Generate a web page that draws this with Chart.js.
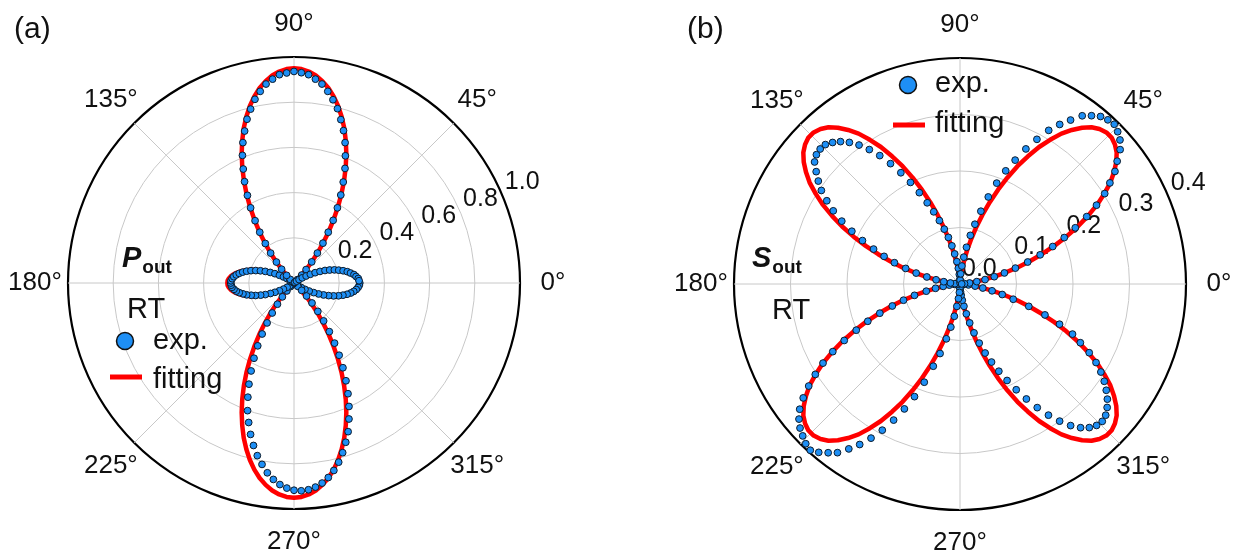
<!DOCTYPE html>
<html>
<head>
<meta charset="utf-8">
<title>P_out / S_out polar plots</title>
<script src="https://cdn.jsdelivr.net/npm/chart.js@4.4.1/dist/chart.umd.min.js"></script>
<style>
  html, body { margin: 0; padding: 0; background: #fff; }
  #wrap { position: relative; width: 1239px; height: 556px; overflow: hidden; }
  #wrap canvas { position: absolute; left: 0; top: 0; }
</style>
</head>
<body>
<div id="wrap">
  <canvas id="polarA" width="1239" height="556"></canvas>
  <canvas id="polarB" width="1239" height="556"></canvas>
</div>
<script>
// polar angle of every sample (deg, counter-clockwise from 0°)
const angleDeg = [
  0, 2, 4, 6, 8, 10, 12, 14, 16, 18, 20, 22, 24, 26, 28, 30, 32, 34, 36, 38,
  40, 42, 44, 46, 48, 50, 52, 54, 56, 58, 60, 62, 64, 66, 68, 70, 72, 74, 76, 78,
  80, 82, 84, 86, 88, 90, 92, 94, 96, 98, 100, 102, 104, 106, 108, 110, 112, 114, 116, 118,
  120, 122, 124, 126, 128, 130, 132, 134, 136, 138, 140, 142, 144, 146, 148, 150, 152, 154, 156, 158,
  160, 162, 164, 166, 168, 170, 172, 174, 176, 178, 180, 182, 184, 186, 188, 190, 192, 194, 196, 198,
  200, 202, 204, 206, 208, 210, 212, 214, 216, 218, 220, 222, 224, 226, 228, 230, 232, 234, 236, 238,
  240, 242, 244, 246, 248, 250, 252, 254, 256, 258, 260, 262, 264, 266, 268, 270, 272, 274, 276, 278,
  280, 282, 284, 286, 288, 290, 292, 294, 296, 298, 300, 302, 304, 306, 308, 310, 312, 314, 316, 318,
  320, 322, 324, 326, 328, 330, 332, 334, 336, 338, 340, 342, 344, 346, 348, 350, 352, 354, 356, 358
];

// (a) P_out, measured
const expP = [
  .291, .288, .285, .276, .268, .254, .241, .224, .206, .188, .168, .148, .126, .104, .082, .062, .043, .027, .014, .005,
  .002, .007, .022, .049, .080, .122, .168, .218, .271, .327, .384, .441, .497, .555, .607, .661, .709, .752, .795, .829,
  .861, .889, .907, .924, .931, .936, .930, .924, .907, .889, .861, .831, .793, .754, .707, .661, .609, .552, .499, .439,
  .384, .325, .271, .216, .168, .121, .082, .047, .023, .007, .002, .004, .010, .022, .037, .054, .073, .094, .115, .137,
  .158, .178, .198, .216, .232, .246, .258, .268, .274, .279, .280, .278, .275, .267, .258, .246, .231, .216, .197, .179,
  .157, .137, .114, .094, .073, .054, .036, .022, .010, .003, .001, .002, .006, .022, .047, .080, .119, .164, .213, .266,
  .321, .377, .433, .490, .545, .601, .649, .697, .741, .781, .815, .848, .874, .894, .908, .917, .920, .917, .908, .894,
  .874, .848, .817, .781, .741, .700, .649, .598, .545, .490, .433, .377, .321, .266, .213, .164, .119, .080, .047, .022,
  .006, .003, .011, .022, .038, .056, .076, .097, .119, .141, .163, .184, .205, .223, .240, .255, .267, .277, .284, .289
];

// (a) P_out, fitting curve
const fitP = [
  .295, .294, .289, .282, .272, .259, .244, .227, .208, .188, .166, .144, .121, .098, .077, .057, .038, .023, .011, .003,
  0, .006, .022, .048, .082, .123, .170, .220, .275, .331, .389, .448, .506, .563, .618, .670, .720, .765, .807, .844,
  .876, .902, .923, .938, .947, .950, .947, .938, .923, .902, .876, .844, .807, .765, .720, .670, .618, .563, .506, .448,
  .389, .331, .275, .220, .170, .123, .082, .048, .022, .006, 0, .003, .011, .023, .038, .057, .077, .098, .121, .144,
  .166, .188, .208, .227, .244, .259, .272, .282, .289, .294, .295, .294, .289, .282, .272, .259, .244, .227, .208, .188,
  .166, .144, .121, .098, .077, .057, .038, .023, .011, .003, 0, .006, .022, .048, .082, .123, .170, .220, .275, .331,
  .389, .448, .506, .563, .618, .670, .720, .765, .807, .844, .876, .902, .923, .938, .947, .950, .947, .938, .923, .902,
  .876, .844, .807, .765, .720, .670, .618, .563, .506, .448, .389, .331, .275, .220, .170, .123, .082, .048, .022, .006,
  0, .003, .011, .023, .038, .057, .077, .098, .121, .144, .166, .188, .208, .227, .244, .259, .272, .282, .289, .294
];

// (b) S_out, measured
const expS = [
  .001, .003, .008, .017, .030, .045, .062, .081, .102, .126, .151, .177, .202, .227, .254, .279, .302, .320, .339, .353,
  .370, .381, .388, .393, .391, .387, .378, .368, .350, .333, .314, .290, .266, .240, .216, .190, .162, .134, .109, .088,
  .066, .048, .032, .018, .007, .002, .008, .017, .028, .040, .054, .069, .085, .101, .118, .136, .155, .177, .200, .223,
  .246, .268, .287, .304, .318, .329, .337, .343, .344, .342, .336, .323, .310, .296, .278, .259, .237, .213, .189, .165,
  .143, .122, .100, .080, .060, .043, .029, .017, .009, .004, .002, .004, .010, .019, .030, .044, .061, .083, .104, .126,
  .151, .176, .201, .228, .255, .280, .302, .323, .343, .360, .372, .381, .387, .393, .396, .389, .379, .369, .352, .335,
  .315, .293, .268, .242, .215, .185, .153, .128, .100, .078, .058, .040, .026, .015, .007, .003, .008, .014, .020, .029,
  .040, .054, .071, .090, .110, .130, .149, .169, .190, .212, .235, .258, .280, .300, .318, .332, .342, .348, .350, .347,
  .340, .331, .320, .308, .294, .278, .259, .237, .218, .190, .160, .128, .098, .077, .058, .041, .027, .015, .007, .002
];

// (b) S_out, fitting curve
const fitS = [
  0, .002, .007, .016, .028, .044, .062, .082, .105, .129, .154, .180, .206, .232, .256, .280, .301, .321, .337, .351,
  .362, .369, .373, .373, .369, .362, .351, .337, .321, .301, .280, .256, .232, .206, .180, .154, .129, .105, .082, .062,
  .044, .028, .016, .007, .002,
  0, .002, .007, .016, .028, .044, .062, .082, .105, .129, .154, .180, .206, .232, .256, .280, .301, .321, .337, .351,
  .362, .369, .373, .373, .369, .362, .351, .337, .321, .301, .280, .256, .232, .206, .180, .154, .129, .105, .082, .062,
  .044, .028, .016, .007, .002,
  0, .002, .007, .016, .028, .044, .062, .082, .105, .129, .154, .180, .206, .232, .256, .280, .301, .321, .337, .351,
  .362, .369, .373, .373, .369, .362, .351, .337, .321, .301, .280, .256, .232, .206, .180, .154, .129, .105, .082, .062,
  .044, .028, .016, .007, .002,
  0, .002, .007, .016, .028, .044, .062, .082, .105, .129, .154, .180, .206, .232, .256, .280, .301, .321, .337, .351,
  .362, .369, .373, .373, .369, .362, .351, .337, .321, .301, .280, .256, .232, .206, .180, .154, .129, .105, .082, .062,
  .044, .028, .016, .007, .002
];

const spokeDeg = [0, 45, 90, 135, 180, 225, 270, 315];
const spokeLabels = ['0°', '45°', '90°', '135°', '180°', '225°', '270°', '315°'];
const rTicksP = [0.2, 0.4, 0.6, 0.8, 1.0];
const rTicksS = [0.0, 0.1, 0.2, 0.3, 0.4];

const FONT = '"Liberation Sans", Arial, Helvetica, sans-serif';
const BLUE = '#1e8ff5';
const RED = '#ff0000';
const GRID = '#c8c8c8';

// radar runs clockwise from its start angle, the polar plot runs counter-clockwise
function ccw(arr) {
  return arr.map((v, i) => arr[(arr.length - i) % arr.length]);
}

function decor(p) {
  return {
    id: 'decor',
    beforeDatasetsDraw(chart) {
      const r = chart.scales.r;
      const ctx = chart.ctx;
      ctx.save();
      // spokes every 45°
      ctx.strokeStyle = GRID;
      ctx.lineWidth = 1;
      spokeDeg.forEach(a => {
        const t = a * Math.PI / 180;
        ctx.beginPath();
        ctx.moveTo(r.xCenter, r.yCenter);
        ctx.lineTo(r.xCenter + Math.cos(t) * r.drawingArea, r.yCenter - Math.sin(t) * r.drawingArea);
        ctx.stroke();
      });
      // radial tick labels along 22.5°
      const t = 22.5 * Math.PI / 180;
      ctx.font = '25px ' + FONT;
      ctx.fillStyle = '#111';
      ctx.textAlign = 'left';
      ctx.textBaseline = 'alphabetic';
      p.ticks.forEach(v => {
        const d = r.getDistanceFromCenterForValue(v);
        ctx.fillText(v.toFixed(1), r.xCenter + Math.cos(t) * d + 2, r.yCenter - Math.sin(t) * d - 8);
      });
      ctx.restore();
    },
    afterDraw(chart) {
      const r = chart.scales.r;
      const ctx = chart.ctx;
      ctx.save();
      ctx.fillStyle = '#111';
      // angle labels
      ctx.font = '26px ' + FONT;
      ctx.textAlign = 'center';
      ctx.textBaseline = 'middle';
      spokeDeg.forEach((a, i) => {
        const t = a * Math.PI / 180;
        const d = r.drawingArea + 33;
        ctx.fillText(spokeLabels[i], r.xCenter + Math.cos(t) * d, r.yCenter - Math.sin(t) * d);
      });
      ctx.textAlign = 'left';
      ctx.textBaseline = 'alphabetic';
      // panel letter
      ctx.font = '30px ' + FONT;
      ctx.fillText(p.letter, p.letterAt[0], p.letterAt[1]);
      // P_out / S_out
      ctx.font = 'italic bold 29px ' + FONT;
      ctx.fillText(p.pol, p.polAt[0], p.polAt[1]);
      const w = ctx.measureText(p.pol).width;
      ctx.font = 'bold 19px ' + FONT;
      ctx.fillText('out', p.polAt[0] + w + 1, p.polAt[1] + 6);
      ctx.font = '29px ' + FONT;
      ctx.fillText('RT', p.rtAt[0], p.rtAt[1]);
      // legend
      ctx.beginPath();
      ctx.arc(p.dotAt[0], p.dotAt[1], 8.5, 0, Math.PI * 2);
      ctx.fillStyle = BLUE;
      ctx.fill();
      ctx.lineWidth = 1.5;
      ctx.strokeStyle = '#111';
      ctx.stroke();
      ctx.fillStyle = '#111';
      ctx.fillText('exp.', p.expAt[0], p.expAt[1]);
      ctx.beginPath();
      ctx.moveTo(p.lineAt[0], p.lineAt[2]);
      ctx.lineTo(p.lineAt[1], p.lineAt[2]);
      ctx.strokeStyle = RED;
      ctx.lineWidth = 5;
      ctx.stroke();
      ctx.fillText('fitting', p.fitAt[0], p.fitAt[1]);
      ctx.restore();
    }
  };
}

function polarChart(p) {
  const rMax = p.ticks[p.ticks.length - 1];
  const isOuter = c => c.tick && Math.abs(c.tick.value - rMax) < 1e-6;
  return new Chart(document.getElementById(p.canvas), {
    type: 'radar',
    data: {
      labels: ccw(angleDeg),
      datasets: [
        {
          label: 'exp.',
          data: ccw(p.exp),
          showLine: false,
          fill: false,
          pointRadius: 3.4,
          pointBackgroundColor: BLUE,
          pointBorderColor: '#0d1b2a',
          pointBorderWidth: 1
        },
        {
          label: 'fitting',
          data: ccw(p.fit),
          fill: false,
          borderColor: RED,
          borderWidth: 4.5,
          borderJoinStyle: 'round',
          pointRadius: 0,
          tension: 0
        }
      ]
    },
    options: {
      responsive: false,
      animation: false,
      devicePixelRatio: 1,
      events: [],
      layout: { padding: p.padding },
      plugins: { legend: { display: false }, tooltip: { enabled: false } },
      scales: {
        r: {
          min: 0,
          max: rMax,
          startAngle: 90,
          ticks: { display: false, stepSize: p.step },
          pointLabels: { display: false },
          angleLines: { display: false },
          grid: {
            circular: true,
            color: c => (isOuter(c) ? '#000' : GRID),
            lineWidth: c => (isOuter(c) ? 2.2 : 1)
          }
        }
      }
    },
    plugins: [decor(p)]
  });
}

polarChart({
  canvas: 'polarA',
  exp: expP,
  fit: fitP,
  ticks: rTicksP,
  step: 0.2,
  padding: { left: 68, right: 719, top: 57, bottom: 47 },
  letter: '(a)', letterAt: [14, 38],
  pol: 'P', polAt: [122, 267],
  rtAt: [127, 318],
  dotAt: [125, 341],
  expAt: [153, 349],
  lineAt: [110, 142, 377],
  fitAt: [153, 388]
});

polarChart({
  canvas: 'polarB',
  exp: expS,
  fit: fitS,
  ticks: rTicksS,
  step: 0.1,
  padding: { left: 734, right: 53, top: 58, bottom: 46 },
  letter: '(b)', letterAt: [687, 38],
  pol: 'S', polAt: [752, 267],
  rtAt: [772, 319],
  dotAt: [908, 85],
  expAt: [935, 92],
  lineAt: [893, 925, 125],
  fitAt: [935, 132]
});
</script>
</body>
</html>
